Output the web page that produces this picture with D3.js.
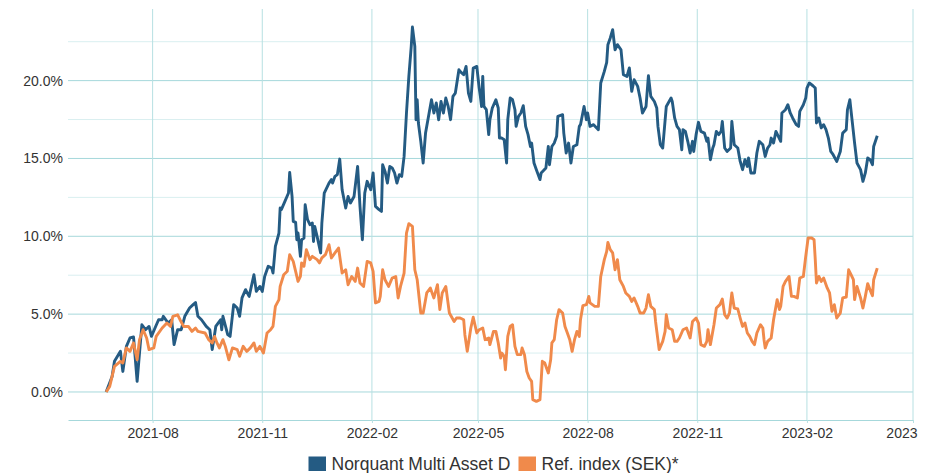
<!DOCTYPE html>
<html>
<head>
<meta charset="utf-8">
<script src="https://cdn.jsdelivr.net/npm/d3@7"></script>
<style>
  body { margin: 0; background: #fff; }
  svg text { font-family: "Liberation Sans", Arial, sans-serif; fill: #333; }
</style>
</head>
<body>
<svg id="chart" width="933" height="473"></svg>
<script>
// cumulative return in %, days counted from first NAV date
const startDate = new Date(2021, 5, 23);
const fundName = "Norquant Multi Asset D";
const refName = "Ref. index (SEK)*";

const fundDays = [
  0,5,7,12,14,17,20,23,26,30,
  33,36,38,41,44,47,48,52,55,57,
  60,63,66,70,73,75,77,80,84,87,
  89,92,96,97,98,102,104,107,110,112,
  114,117,120,124,126,129,131,133,136,139,
  140,142,145,146,147,150,153,154,156,157,
  159,160,161,163,164,166,167,169,171,173,
  174,175,177,180,181,183,187,189,190,192,
  194,196,198,201,203,205,208,211,213,215,
  217,219,222,224,226,229,231,232,234,236,
  238,240,242,244,246,248,250,252,254,256,
  257,259,260,261,262,264,266,268,271,273,
  275,277,279,281,283,285,287,289,291,293,
  296,297,300,302,304,306,308,311,313,314,
  315,316,317,319,321,322,324,327,329,330,
  332,334,336,337,339,341,343,344,346,348,
  350,352,354,356,357,359,361,364,365,369,
  371,372,374,376,378,379,383,384,386,388,
  390,392,395,397,398,401,403,404,406,409,
  413,415,418,420,421,423,425,427,429,432,
  434,437,439,441,443,446,448,450,453,455,
  457,460,462,463,465,467,470,474,475,477,
  479,481,483,484,486,488,490,492,493,495,
  497,499,502,504,505,507,509,510,512,514,
  516,517,519,521,524,525,527,530,532,534,
  536,538,539,541,544,546,548,551,553,555,
  557,558,560,562,564,566,567,570,572,574,
  576,579,581,582,585,587,588,590,593,595,
  596,598,600,602,604,606,608,610,613,616,
  618,621,622,624,626,628,630,633,635,637,
  639,641,643,644,647
];
const fundPct = [
  0.00,1.00,1.97,2.61,1.32,2.93,3.47,3.53,0.68,4.32,
  4.00,4.21,3.57,4.11,4.64,4.64,4.86,4.43,4.64,3.04,
  4.00,4.00,4.86,5.39,5.61,5.75,4.86,4.64,4.21,4.00,
  2.72,4.21,4.64,4.00,4.86,3.68,3.57,5.61,5.39,4.86,
  6.04,6.57,6.14,7.53,6.46,6.78,6.46,7.42,8.07,7.96,
  7.64,9.35,10.21,11.82,11.71,12.24,12.78,14.10,12.56,10.96,
  10.89,9.78,10.21,8.71,9.78,9.89,12.03,11.07,10.75,10.85,
  9.67,10.64,9.99,8.93,10.85,12.78,13.42,13.64,13.42,13.85,
  13.96,14.96,12.99,11.82,12.56,12.14,12.56,14.49,11.92,9.78,
  12.78,13.53,12.99,14.07,11.92,11.71,11.60,14.60,14.17,13.42,
  14.49,14.39,14.07,13.42,13.96,13.85,15.13,17.92,20.27,22.20,
  23.44,22.20,17.49,18.77,17.28,16.10,14.71,16.63,17.92,18.77,
  17.92,18.56,17.49,18.66,17.92,18.88,18.34,17.49,18.99,19.20,
  20.70,20.59,20.38,20.91,19.20,18.66,20.81,20.91,19.52,18.99,
  18.34,20.27,18.34,18.13,16.53,17.49,18.24,18.77,18.24,16.31,
  16.31,16.20,14.71,17.49,18.88,18.77,18.13,17.06,17.70,17.92,
  18.39,17.06,16.53,15.77,15.99,14.71,14.28,13.64,14.07,14.39,
  15.77,14.60,15.77,15.99,16.42,17.70,17.81,16.63,15.35,15.99,
  14.71,15.77,15.88,17.06,17.17,18.34,17.49,17.92,17.06,17.17,
  16.85,19.85,20.59,21.17,22.31,22.74,23.27,21.98,22.31,21.98,
  20.38,20.27,20.81,19.31,20.06,19.63,18.88,17.92,18.34,20.31,
  18.99,18.66,18.24,17.06,15.88,15.67,18.34,18.88,18.66,17.60,
  17.06,16.85,15.56,16.85,16.74,16.10,15.35,16.10,15.45,16.53,
  17.32,16.74,16.63,16.10,16.31,14.92,15.67,15.88,16.74,16.53,
  16.74,17.38,15.67,15.45,15.67,17.38,15.88,15.67,14.81,14.28,
  14.92,14.49,15.03,14.07,14.07,15.35,16.10,15.88,15.13,15.67,
  15.88,16.31,15.99,16.74,16.42,16.10,17.92,18.13,18.45,17.92,
  17.60,17.17,17.06,18.02,18.45,18.88,19.52,19.85,19.67,19.52,
  17.28,17.60,16.96,17.17,16.85,16.31,15.45,15.24,14.81,15.45,
  16.63,16.85,18.13,18.77,17.38,15.99,14.71,14.28,13.53,14.07,
  15.03,14.92,14.60,15.77,16.46
];

const refDays = [
  0,3,7,12,14,17,20,23,26,28,
  31,34,36,40,42,47,51,54,56,60,
  62,65,69,72,75,77,83,86,89,91,
  93,95,98,100,103,106,110,112,115,118,
  121,124,126,129,132,135,138,140,142,145,
  146,149,152,154,157,159,161,163,164,166,
  168,171,173,177,179,181,184,187,189,192,
  195,198,201,203,206,209,211,213,216,219,
  222,224,226,229,230,232,234,237,240,243,
  245,247,250,252,254,257,259,261,264,266,
  269,272,275,278,280,282,285,288,292,294,
  297,300,301,303,306,308,311,313,316,318,
  321,322,325,327,329,331,332,334,335,337,
  339,341,343,345,348,349,351,353,355,357,
  358,361,364,366,368,371,373,374,376,378,
  380,383,385,387,389,391,393,395,397,398,
  400,403,405,406,410,413,415,418,420,421,
  423,425,427,429,431,434,436,439,441,443,
  446,448,451,453,455,457,460,461,464,467,
  469,470,472,475,477,479,481,484,487,490,
  492,495,497,499,502,504,505,507,510,512,
  515,517,519,521,523,525,527,530,532,534,
  536,538,540,542,544,546,549,551,552,553,
  555,558,560,563,565,566,568,570,573,575,
  577,580,582,585,587,589,592,594,595,596,
  598,600,602,605,607,609,611,613,616,618,
  621,623,625,627,628,630,633,635,637,639,
  642,643,644,647
];
const refPct = [
  0.00,0.36,1.64,1.97,1.86,2.83,2.61,3.15,2.07,3.36,
  4.00,3.47,2.72,2.83,3.57,4.11,4.43,4.21,4.86,4.96,
  4.64,4.21,4.21,3.89,4.11,3.89,3.79,3.36,3.15,3.57,
  3.15,2.83,3.36,2.93,2.07,2.83,2.72,2.29,2.93,2.61,
  2.83,3.15,2.61,2.93,2.50,3.79,4.00,4.21,5.50,5.93,
  6.78,7.53,7.75,8.82,8.39,7.75,7.10,7.42,8.29,8.07,
  9.14,8.50,8.71,8.50,8.29,8.61,8.82,9.46,8.61,8.93,
  9.25,7.64,7.85,6.89,7.42,7.10,7.96,7.00,6.78,8.39,
  8.29,7.75,5.72,5.82,6.14,7.85,7.21,6.78,7.32,7.42,
  6.04,6.78,7.64,10.21,10.81,10.64,7.85,7.21,5.07,5.07,
  6.36,6.68,6.04,6.89,5.29,6.36,6.78,5.07,4.53,4.75,
  4.75,4.64,3.68,2.61,4.11,4.80,3.79,4.00,4.11,3.36,
  3.47,3.04,3.89,3.89,3.15,2.18,2.50,2.29,1.43,3.57,
  4.21,4.32,2.93,2.40,2.40,2.83,2.40,1.32,0.90,0.68,
  -0.49,-0.60,-0.49,1.97,1.86,1.22,2.07,3.15,3.36,4.64,
  5.29,5.07,4.21,3.79,3.36,2.61,3.36,3.89,3.57,4.64,
  5.54,5.61,6.14,5.72,5.50,5.50,7.42,8.50,9.03,9.61,
  9.14,8.93,7.85,8.50,7.21,6.78,6.36,6.14,5.82,6.04,
  5.50,5.07,5.07,5.39,6.25,5.50,5.29,4.53,2.72,3.25,
  3.89,4.96,4.11,4.00,3.25,3.25,3.47,4.00,4.11,3.47,
  4.53,4.75,4.43,3.04,2.93,3.25,4.00,3.04,4.32,5.39,
  5.61,5.97,4.96,4.75,5.07,6.36,5.39,5.33,4.75,4.21,
  4.43,3.79,3.57,3.25,3.04,3.79,4.32,4.11,3.36,2.83,
  3.25,3.47,4.64,5.93,5.29,5.50,6.78,7.10,7.42,6.14,
  6.14,6.04,7.32,7.42,8.71,9.89,9.89,9.78,8.50,7.00,
  7.42,7.10,7.32,6.68,6.36,5.18,5.61,4.75,5.07,6.04,
  6.10,7.85,7.53,7.21,5.93,6.78,6.04,5.39,6.14,6.96,
  6.36,6.18,7.21,7.96
];

const xTickValues = ["2021-08", "2021-11", "2022-02", "2022-05", "2022-08", "2022-11", "2023-02", "2023-05"];
const xTickLabels = ["2021-08", "2021-11", "2022-02", "2022-05", "2022-08", "2022-11", "2023-02", "2023"];
const yTicks = [0, 5, 10, 15, 20];
const yMinor = [2.5, 7.5, 12.5, 17.5, 22.5];

const fundColor = "#245b83";
const refColor = "#f08a4b";

const svg = d3.select("#chart");
const margin = { left: 68, right: 913, top: 9, bottom: 420 };

const parseMonth = d3.timeParse("%Y-%m");
const xTickDates = xTickValues.map(parseMonth);

const x = d3.scaleTime()
  .domain([new Date(2021, 4, 22), new Date(2023, 4, 1)])
  .range([margin.left, margin.right]);
const y = d3.scaleLinear()
  .domain([-1.8, 24.6])
  .range([margin.bottom, margin.top]);

// grid
svg.append("g").selectAll("line").data(yMinor).join("line")
  .attr("x1", margin.left).attr("x2", margin.right)
  .attr("y1", d => y(d)).attr("y2", d => y(d))
  .attr("stroke", "#d9eff0").attr("stroke-width", 1);
svg.append("g").selectAll("line").data(yTicks).join("line")
  .attr("x1", margin.left).attr("x2", margin.right)
  .attr("y1", d => y(d)).attr("y2", d => y(d))
  .attr("stroke", "#a6d8db").attr("stroke-width", 1);
svg.append("g").selectAll("line").data(xTickDates).join("line")
  .attr("x1", d => x(d)).attr("x2", d => x(d))
  .attr("y1", margin.top).attr("y2", margin.bottom)
  .attr("stroke", "#b7e0e2").attr("stroke-width", 1);

// axes
const xAxis = svg.append("g")
  .attr("transform", `translate(0,${margin.bottom})`)
  .call(d3.axisBottom(x).tickValues(xTickDates)
    .tickFormat((d, i) => xTickLabels[i]).tickSize(3).tickSizeOuter(0).tickPadding(5));
xAxis.select(".domain").attr("stroke", "#a6d8db");
xAxis.selectAll(".tick line").attr("stroke", "#b7e0e2");
xAxis.selectAll("text").attr("font-size", 14).attr("fill", "#333")
  .filter((d, i) => i === xTickLabels.length - 1)
  .attr("text-anchor", "end").attr("dx", 4);

const yAxis = svg.append("g")
  .attr("transform", `translate(${margin.left},0)`)
  .call(d3.axisLeft(y).tickValues(yTicks)
    .tickFormat(d => d3.format(".1f")(d) + "%").tickSize(0).tickPadding(5));
yAxis.select(".domain").remove();
yAxis.selectAll("text").attr("font-size", 14).attr("fill", "#333");

// series
const fund = fundDays.map((d, i) => ({ date: d3.timeDay.offset(startDate, d), v: fundPct[i] }));
const ref = refDays.map((d, i) => ({ date: d3.timeDay.offset(startDate, d), v: refPct[i] }));

const line = d3.line().x(d => x(d.date)).y(d => y(d.v));

svg.append("path").datum(fund)
  .attr("d", line).attr("fill", "none")
  .attr("stroke", fundColor).attr("stroke-width", 2.9)
  .attr("stroke-linejoin", "round");
svg.append("path").datum(ref)
  .attr("d", line).attr("fill", "none")
  .attr("stroke", refColor).attr("stroke-width", 2.9)
  .attr("stroke-linejoin", "round");

// legend
const legend = [
  { name: fundName, color: fundColor, x: 308.5 },
  { name: refName, color: refColor, x: 518.5 }
];
const lg = svg.append("g").selectAll("g").data(legend).join("g")
  .attr("transform", d => `translate(${d.x},0)`);
lg.append("rect").attr("x", 0).attr("y", 456.5)
  .attr("width", 17.5).attr("height", 14.5)
  .attr("fill", d => d.color);
lg.append("text").attr("x", 23).attr("y", 470)
  .attr("font-size", 17.5).attr("fill", "#333")
  .text(d => d.name);
</script>
</body>
</html>
